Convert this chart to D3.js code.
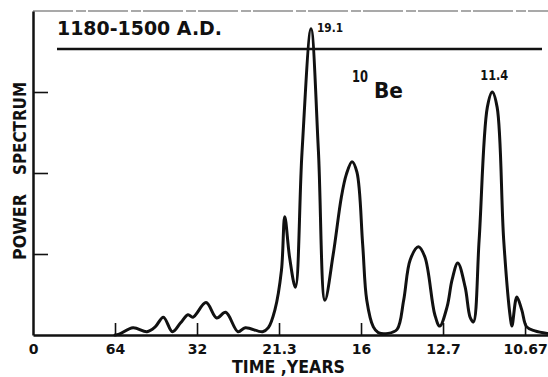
<!DOCTYPE html>
<html>
<head>
<meta charset="utf-8">
<script src="https://cdn.jsdelivr.net/npm/d3@7"></script>
<style>
  html, body { margin: 0; padding: 0; background: #fff; }
  svg { display: block; }
  text { font-family: "DejaVu Sans", "Liberation Sans", sans-serif; font-weight: bold; fill: #111; }
</style>
</head>
<body>
<svg id="chart" width="548" height="377"></svg>
<script>
// Frequency in harmonics (cycles per 64 years) and relative power
const harmonic = [1.00, 1.05, 1.22, 1.39, 1.49, 1.59, 1.70, 1.80, 1.89, 1.95, 2.11, 2.24, 2.35, 2.50, 2.59, 2.80, 2.87,
  2.95, 3.03, 3.07, 3.13, 3.20, 3.28, 3.39, 3.48, 3.56, 3.66, 3.76, 3.82, 3.89, 3.95, 4.02, 4.07, 4.15, 4.21, 4.33, 4.44,
  4.52, 4.60, 4.70, 4.78, 4.90, 4.96, 5.05, 5.11, 5.18, 5.27, 5.33, 5.37, 5.44, 5.54, 5.60, 5.66, 5.74, 5.82, 5.84,
  5.90, 5.96, 6.02, 6.12, 6.27];
const power = [0.00, 0.01, 0.09, 0.04, 0.10, 0.22, 0.04, 0.15, 0.25, 0.22, 0.40, 0.21, 0.28, 0.04, 0.09, 0.04, 0.09,
  0.31, 0.80, 1.46, 0.95, 0.59, 2.25, 3.78, 2.28, 0.43, 0.99, 1.70, 1.98, 2.14, 2.01, 1.12, 0.43, 0.10, 0.03, 0.02, 0.07,
  0.43, 0.93, 1.09, 0.96, 0.25, 0.11, 0.35, 0.68, 0.89, 0.59, 0.22, 0.16, 1.17, 2.81, 3.00, 2.81, 1.17, 0.22, 0.11,
  0.47, 0.31, 0.10, 0.05, 0.02];
const xTickValues = [0, 1, 2, 3, 4, 5, 6];
const xTickLabels = ["0", "64", "32", "21.3", "16", "12.7", "10.67"];
const yTickValues = [1, 2, 3];
const peakLabels = [{h: 3.39, p: 3.78, text: "19.1"}, {h: 5.60, p: 3.00, text: "11.4"}];

const svg = d3.select("#chart");
const x = d3.scaleLinear().domain([0, 6.28]).range([33, 548]);
const y = d3.scaleLinear().domain([0, 4]).range([335, 11]);

// top frame (faint)
svg.append("line").attr("x1", x(0)).attr("x2", x(6.28)).attr("y1", y(4)).attr("y2", y(4))
  .attr("stroke", "#555").attr("stroke-width", 1.2).attr("stroke-dasharray", "40 3 10 2");

// x axis
const xAxis = d3.axisBottom(x).tickValues(xTickValues)
  .tickFormat((d, i) => xTickLabels[i]).tickSizeInner(-12).tickSizeOuter(0).tickPadding(9);
const gx = svg.append("g").attr("transform", `translate(0,${y(0)})`).call(xAxis);
gx.select(".domain").attr("stroke", "#111").attr("stroke-width", 2.5);
gx.selectAll(".tick line").attr("stroke", "#111").attr("stroke-width", 1.6);
gx.selectAll(".tick text").attr("font-size", 14).attr("dy", "0.71em").attr("fill", "#111")
  .attr("font-family", "DejaVu Sans").attr("font-weight", "bold")
  .attr("dx", (d, i) => i === 6 ? 0 : 0);
gx.selectAll(".tick").filter((d, i) => i === 0).select("line").remove();

// y axis
const yAxis = d3.axisLeft(y).tickValues(yTickValues).tickFormat("").tickSizeInner(-15).tickSizeOuter(0);
const gy = svg.append("g").attr("transform", `translate(${x(0)},0)`).call(yAxis);
gy.select(".domain").attr("stroke", "#111").attr("stroke-width", 2.5);
gy.selectAll(".tick line").attr("stroke", "#111").attr("stroke-width", 1.6);

// header rule
svg.append("line").attr("x1", 57).attr("x2", 542).attr("y1", 49).attr("y2", 49)
  .attr("stroke", "#111").attr("stroke-width", 2.5);

// curve
const pts = harmonic.map((h, i) => [h, power[i]]);
const line = d3.line().x(d => x(d[0])).y(d => y(d[1])).curve(d3.curveCatmullRom.alpha(0.5));
svg.append("path").attr("d", line(pts)).attr("fill", "none").attr("stroke", "#111")
  .attr("stroke-width", 3).attr("stroke-linejoin", "round").attr("stroke-linecap", "round");

// texts
svg.append("text").attr("x", 57).attr("y", 35).attr("font-size", 20)
  .attr("textLength", 165).attr("lengthAdjust", "spacingAndGlyphs").text("1180-1500 A.D.");
svg.append("text").attr("x", x(peakLabels[0].h) + 6).attr("y", y(peakLabels[0].p) + 3).attr("font-size", 13)
  .attr("textLength", 26).attr("lengthAdjust", "spacingAndGlyphs").text(peakLabels[0].text);
svg.append("text").attr("x", x(peakLabels[1].h) - 12).attr("y", y(peakLabels[1].p) - 12).attr("font-size", 14)
  .attr("textLength", 28).attr("lengthAdjust", "spacingAndGlyphs").text(peakLabels[1].text);
svg.append("text").attr("x", 352).attr("y", 82).attr("font-size", 15)
  .attr("textLength", 16).attr("lengthAdjust", "spacingAndGlyphs").text("10");
svg.append("text").attr("x", 374).attr("y", 98).attr("font-size", 21)
  .attr("textLength", 29).attr("lengthAdjust", "spacingAndGlyphs").text("Be");

// axis titles
svg.append("text").attr("x", 232).attr("y", 373).attr("font-size", 17)
  .attr("textLength", 113).attr("lengthAdjust", "spacingAndGlyphs").text("TIME ,YEARS");
svg.append("text").attr("transform", "translate(26,260) rotate(-90)").attr("font-size", 17)
  .attr("textLength", 66).attr("lengthAdjust", "spacingAndGlyphs").text("POWER");
svg.append("text").attr("transform", "translate(26,175) rotate(-90)").attr("font-size", 17)
  .attr("textLength", 93).attr("lengthAdjust", "spacingAndGlyphs").text("SPECTRUM");
</script>
</body>
</html>
